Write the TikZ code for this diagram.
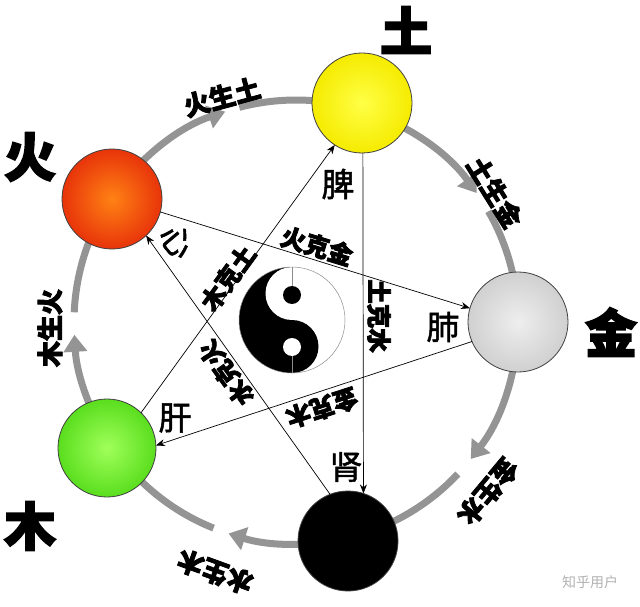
\documentclass[tikz,border=0pt]{standalone}
\usepackage{fontspec}
\newfontfamily\cjk{Noto Sans CJK SC}
\newfontfamily\cjkh{Noto Sans CJK SC}[FakeBold=3]
\newfontfamily\cjko{Noto Sans CJK SC}[FakeBold=1.5]
\usetikzlibrary{arrows.meta,calc}
\definecolor{ringgray}{RGB}{148,148,148}
\definecolor{huoin}{RGB}{255,130,20}
\definecolor{huoout}{RGB}{232,52,10}
\definecolor{tuin}{RGB}{255,255,70}
\definecolor{tuout}{RGB}{245,235,0}
\definecolor{jinin}{RGB}{238,238,238}
\definecolor{jinout}{RGB}{208,208,208}
\definecolor{muin}{RGB}{160,255,90}
\definecolor{muout}{RGB}{90,222,30}
\begin{document}
\begin{tikzpicture}[x=1pt,y=-1pt,
  elem/.style={circle,minimum size=100pt,inner sep=0pt,outer sep=0pt,draw=black!75,line width=0.8pt},
  ringline/.style={line width=7pt,draw=ringgray},
  ringarrow/.style={ringline,-{Triangle[width=23pt,length=17pt]}},
  starline/.style={line width=0.7pt,-{Stealth[length=9pt,width=7pt]}},
  biglabel/.style={font=\cjkh\bfseries\fontsize{52}{52}\selectfont},
  sheng/.style={font=\cjkh\bfseries\fontsize{26}{26}\selectfont,inner sep=1pt},
  kelabel/.style={font=\cjkh\bfseries\fontsize{24.5}{24.5}\selectfont,inner sep=1pt},
  organ/.style={font=\cjko\fontsize{33}{33}\selectfont,inner sep=1pt}]
\useasboundingbox (0,0) rectangle (640,607);
\fill[white] (0,0) rectangle (640,607);

% outer ring (generating cycle)
\coordinate (O) at (296,322);
\draw[ringarrow] ($(O)+(-146:222)$) arc (-146:-108.6:222);
\draw[ringline] ($(O)+(-104.8:222)$) arc (-104.8:-73.5:222);
\draw[ringarrow] ($(O)+(-73.5:222)$) arc (-73.5:-35.5:222);
\draw[ringline] ($(O)+(-29.9:222)$) arc (-29.9:0.3:222);
\draw[ringarrow] ($(O)+(0.3:222)$) arc (0.3:38.1:222);
\draw[ringline] ($(O)+(43.2:222)$) arc (43.2:76.6:222);
\draw[ringarrow] ($(O)+(76.6:222)$) arc (76.6:107.7:222);
\draw[ringline] ($(O)+(111.8:222)$) arc (111.8:146.5:222);
\draw[ringarrow] ($(O)+(146.5:222)$) arc (146.5:176.7:222);
\draw[ringline] ($(O)+(182.5:222)$) arc (182.5:214:222);

% yin-yang
\coordinate (Y) at (292,320);
\fill[white] (Y) circle (53);
\begin{scope}
  \clip (230,260) rectangle (292,380);
  \fill[black] (Y) circle (53);
\end{scope}
\fill[white] (292,293.5) circle (26.5);
\fill[black] (292,346.5) circle (26.5);
\draw[black!45,line width=0.5pt] (Y) circle (53);
\draw[black!45,line width=0.5pt] (292,267) -- (292,295);
\draw[black!45,line width=0.5pt] (292,347) -- (292,373);
\fill[black] (292,295) circle (9);
\fill[white] (292,347) circle (9);

% elements
\node[elem,shading=radial,inner color=tuin,outer color=tuout] (tu) at (362,103) {};
\node[elem,shading=radial,inner color=jinin,outer color=jinout] (jin) at (518,322) {};
\node[elem,fill=black] (shui) at (348,541) {};
\node[elem,shading=radial,inner color=muin,outer color=muout,minimum size=98pt] (mu) at (107,448) {};
\node[elem,shading=radial,inner color=huoin,outer color=huoout] (huo) at (112,199) {};

% controlling star
\draw[starline] (tu.-89) -- (shui.72.6);
\draw[starline] (shui.111) -- (huo.-47);
\draw[starline] (huo.-15.6) -- (jin.164);
\draw[starline] (jin.203.5) -- (mu.3.4);
\draw[starline] (mu.46.5) -- (tu.237.5);

% big labels
\node[biglabel] (ltu) at (406,30) {土};
\node[biglabel] (ljin) at (611,332) {金};
\node[biglabel] (lmu) at (30,526) {木};
\node[biglabel] (lhuo) at (30,157) {火};

% generating labels
\node[sheng,rotate=15] (s1) at (222,97) {火生土};
\node[sheng,rotate=-58] (s2) at (495,192) {土生金};
\node[sheng,rotate=-130] (s3) at (488,492) {金生水};
\node[sheng,rotate=160] (s4) at (215,572) {水生木};
\node[sheng,rotate=90] (s5) at (50,328) {木生火};

% controlling labels
\node[kelabel,rotate=-17] (k1) at (317,246) {火克金};
\node[kelabel,rotate=54] (k2) at (228,278) {木克土};
\node[kelabel,rotate=-90] (k3) at (379,316) {土克水};
\node[kelabel,rotate=126] (k4) at (226,373) {水克火};
\node[kelabel,rotate=198] (k5) at (322,408) {金克木};

% organs
\node[organ] (o1) at (338,184) {脾};
\node[organ] (o2) at (443,327) {肺};
\node[organ] (o3) at (346,467) {肾};
\node[organ] (o4) at (175,418) {肝};
\node[organ,rotate=-50] (o5) at (177,241) {心};

% watermark
\node[font=\cjk\fontsize{14}{14}\selectfont,text=black!30] (wm) at (590,582) {知乎用户};
\end{tikzpicture}
\end{document}
